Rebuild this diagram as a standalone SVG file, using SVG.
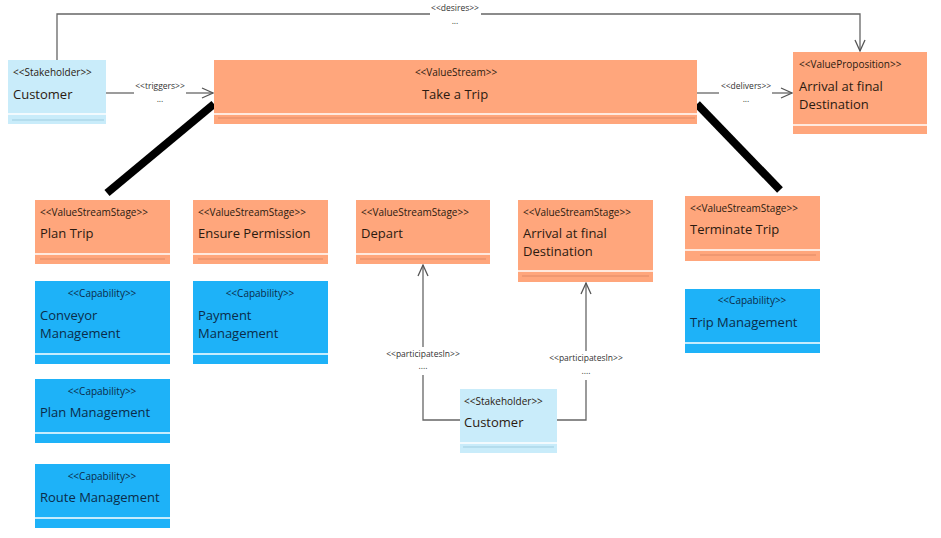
<svg xmlns="http://www.w3.org/2000/svg" width="941" height="538" viewBox="0 0 941 538">
<defs>
<marker id="open" markerWidth="14" markerHeight="12" refX="12" refY="6" orient="auto" markerUnits="userSpaceOnUse">
<path d="M1,1 L12,6 L1,11" fill="none" stroke="#555" stroke-width="1.3"/>
</marker>
</defs>
<style>
text{font-family:"Open Sans","Noto Sans","DejaVu Sans",sans-serif;fill:#2b1a10}
.st{font-size:10px}
.nm{font-size:13px}
.lbl{font-size:8.5px;fill:#333}
.org{fill:#FFA67C}
.cap{fill:#1EB2F8}
.skh{fill:#C9ECFA}
.sep{stroke:#fff;stroke-width:1.5}
.osep{stroke:#e08a66;stroke-width:1}
.ssep{stroke:#9fcde0;stroke-width:1}
.captxt{fill:#0b2c4a}
.con{fill:none;stroke:#666;stroke-width:1.3}
.thick{stroke:#000;stroke-width:8}
</style>
<rect width="941" height="538" fill="#fff"/>

<g id="connectors">
<path class="con" d="M57,60 V14 H430"/>
<path class="con" d="M481,14 H860 V51" marker-end="url(#open)"/>
<text class="lbl" x="455" y="11" text-anchor="middle">&lt;&lt;desires&gt;&gt;</text>
<text class="lbl" x="455" y="24" text-anchor="middle">...</text>

<path class="con" d="M106,93 H134"/>
<path class="con" d="M186,93 H213" marker-end="url(#open)"/>
<text class="lbl" x="160" y="89" text-anchor="middle">&lt;&lt;triggers&gt;&gt;</text>
<text class="lbl" x="160" y="102" text-anchor="middle">...</text>

<path class="con" d="M697,93 H719"/>
<path class="con" d="M772,93 H792" marker-end="url(#open)"/>
<text class="lbl" x="746" y="89" text-anchor="middle">&lt;&lt;delivers&gt;&gt;</text>
<text class="lbl" x="746" y="102" text-anchor="middle">...</text>

<line class="thick" x1="214" y1="104" x2="107" y2="193"/>
<line class="thick" x1="697" y1="104" x2="780" y2="190"/>

<path class="con" d="M460,420 H423 V375"/>
<path class="con" d="M423,347 V265" marker-end="url(#open)"/>
<text class="lbl" x="423" y="357" text-anchor="middle">&lt;&lt;participatesIn&gt;&gt;</text>
<text class="lbl" x="423" y="369" text-anchor="middle">....</text>

<path class="con" d="M557,420 H586 V380"/>
<path class="con" d="M586,351 V283" marker-end="url(#open)"/>
<text class="lbl" x="586" y="361" text-anchor="middle">&lt;&lt;participatesIn&gt;&gt;</text>
<text class="lbl" x="586" y="374" text-anchor="middle">....</text>
</g>

<g id="customer-top">
<rect class="skh" x="8" y="60" width="98" height="64"/>
<line class="sep" x1="8" y1="114" x2="106" y2="114"/>
<line class="ssep" x1="12" y1="120" x2="104" y2="120"/>
<text class="st" x="13" y="76">&lt;&lt;Stakeholder&gt;&gt;</text>
<text class="nm" x="13" y="99">Customer</text>
</g>

<g id="take-a-trip">
<rect class="org" x="214" y="60" width="483" height="64"/>
<line class="sep" x1="214" y1="114" x2="697" y2="114"/>
<line class="osep" x1="218" y1="118" x2="695" y2="118"/>
<text class="st" x="456" y="76" text-anchor="middle">&lt;&lt;ValueStream&gt;&gt;</text>
<text class="nm" x="455" y="99" text-anchor="middle">Take a Trip</text>
</g>

<g id="value-proposition">
<rect class="org" x="793" y="52" width="134" height="82"/>
<line class="sep" x1="793" y1="125" x2="927" y2="125"/>
<text class="st" x="799" y="68">&lt;&lt;ValueProposition&gt;&gt;</text>
<text class="nm" x="799" y="91">Arrival at final</text>
<text class="nm" x="799" y="109">Destination</text>
</g>

<g id="plan-trip">
<rect class="org" x="35" y="200" width="135" height="64"/>
<line class="sep" x1="35" y1="254" x2="170" y2="254"/>
<line class="osep" x1="40" y1="259" x2="165" y2="259"/>
<text class="st" x="40" y="216">&lt;&lt;ValueStreamStage&gt;&gt;</text>
<text class="nm" x="40" y="238">Plan Trip</text>
</g>

<g id="ensure-permission">
<rect class="org" x="193" y="200" width="135" height="64"/>
<line class="sep" x1="193" y1="254" x2="328" y2="254"/>
<line class="osep" x1="198" y1="259" x2="323" y2="259"/>
<text class="st" x="198" y="216">&lt;&lt;ValueStreamStage&gt;&gt;</text>
<text class="nm" x="198" y="238">Ensure Permission</text>
</g>

<g id="depart">
<rect class="org" x="356" y="200" width="134" height="64"/>
<line class="sep" x1="356" y1="254" x2="490" y2="254"/>
<line class="osep" x1="360" y1="259" x2="486" y2="259"/>
<text class="st" x="361" y="216">&lt;&lt;ValueStreamStage&gt;&gt;</text>
<text class="nm" x="361" y="238">Depart</text>
</g>

<g id="arrival-stage">
<rect class="org" x="518" y="200" width="135" height="82"/>
<line class="sep" x1="518" y1="271" x2="653" y2="271"/>
<line class="osep" x1="522" y1="276" x2="649" y2="276"/>
<text class="st" x="523" y="216">&lt;&lt;ValueStreamStage&gt;&gt;</text>
<text class="nm" x="523" y="238">Arrival at final</text>
<text class="nm" x="523" y="256">Destination</text>
</g>

<g id="terminate-trip">
<rect class="org" x="685" y="196" width="135" height="65"/>
<line class="sep" x1="685" y1="250" x2="820" y2="250"/>
<line class="osep" x1="700" y1="255" x2="816" y2="255"/>
<text class="st" x="690" y="212">&lt;&lt;ValueStreamStage&gt;&gt;</text>
<text class="nm" x="690" y="234">Terminate Trip</text>
</g>

<g id="conveyor-management">
<rect class="cap" x="35" y="281" width="135" height="83"/>
<line class="sep" x1="35" y1="354" x2="170" y2="354"/>
<text class="st captxt" x="102" y="297" text-anchor="middle">&lt;&lt;Capability&gt;&gt;</text>
<text class="nm captxt" x="40" y="320">Conveyor</text>
<text class="nm captxt" x="40" y="338">Management</text>
</g>

<g id="payment-management">
<rect class="cap" x="193" y="281" width="135" height="83"/>
<line class="sep" x1="193" y1="354" x2="328" y2="354"/>
<text class="st captxt" x="260" y="297" text-anchor="middle">&lt;&lt;Capability&gt;&gt;</text>
<text class="nm captxt" x="198" y="320">Payment</text>
<text class="nm captxt" x="198" y="338">Management</text>
</g>

<g id="plan-management">
<rect class="cap" x="35" y="379" width="135" height="64"/>
<line class="sep" x1="35" y1="433" x2="170" y2="433"/>
<text class="st captxt" x="102" y="395" text-anchor="middle">&lt;&lt;Capability&gt;&gt;</text>
<text class="nm captxt" x="40" y="417">Plan Management</text>
</g>

<g id="route-management">
<rect class="cap" x="35" y="464" width="135" height="64"/>
<line class="sep" x1="35" y1="518" x2="170" y2="518"/>
<text class="st captxt" x="102" y="480" text-anchor="middle">&lt;&lt;Capability&gt;&gt;</text>
<text class="nm captxt" x="40" y="502">Route Management</text>
</g>

<g id="trip-management">
<rect class="cap" x="685" y="289" width="135" height="64"/>
<line class="sep" x1="685" y1="343" x2="820" y2="343"/>
<text class="st captxt" x="752" y="304" text-anchor="middle">&lt;&lt;Capability&gt;&gt;</text>
<text class="nm captxt" x="690" y="327">Trip Management</text>
</g>

<g id="customer-bottom">
<rect class="skh" x="460" y="389" width="97" height="64"/>
<line class="sep" x1="460" y1="443" x2="557" y2="443"/>
<line class="ssep" x1="463" y1="447" x2="554" y2="447"/>
<text class="st" x="464" y="405">&lt;&lt;Stakeholder&gt;&gt;</text>
<text class="nm" x="464" y="427">Customer</text>
</g>
</svg>
